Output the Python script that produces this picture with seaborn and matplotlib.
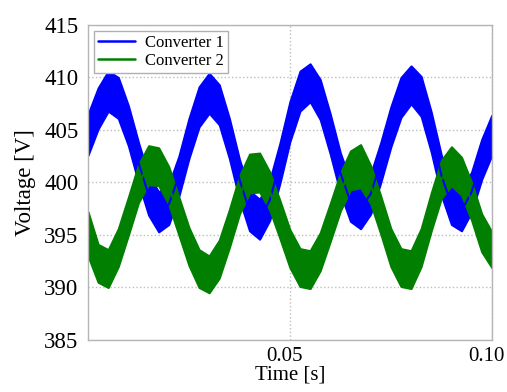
import numpy as np
import pandas as pd
import matplotlib
matplotlib.use("Agg")
import matplotlib.pyplot as plt
import matplotlib.transforms as mtransforms
import seaborn as sns

# Sample times [s]
time_s = [0.0, 0.0025, 0.005, 0.0075, 0.01, 0.0125, 0.015, 0.0175, 0.02, 0.0225,
          0.025, 0.0275, 0.03, 0.0325, 0.035, 0.0375, 0.04, 0.0425, 0.045, 0.0475,
          0.05, 0.0525, 0.055, 0.0575, 0.06, 0.0625, 0.065, 0.0675, 0.07, 0.0725,
          0.075, 0.0775, 0.08, 0.0825, 0.085, 0.0875, 0.09, 0.0925, 0.095, 0.0975, 0.1]

# Converter 1: upper / lower envelope of the noisy trace [V]
conv1_upper = [406.5, 409.0, 410.6, 410.0, 407.3, 403.8, 400.7, 399.1, 399.8, 402.5,
               406.1, 409.1, 410.4, 409.3, 406.1, 402.2, 399.2, 398.4, 400.2, 403.7,
               407.7, 410.6, 411.3, 409.8, 406.5, 402.8, 400.1, 399.4, 400.8, 403.8,
               407.2, 410.0, 411.1, 410.1, 406.7, 402.6, 399.8, 399.2, 401.0, 404.1, 406.4]
conv1_lower = [402.6, 405.1, 406.8, 406.1, 403.5, 400.0, 396.9, 395.3, 396.0, 398.7,
               402.3, 405.3, 406.6, 405.5, 402.3, 398.4, 395.4, 394.6, 396.4, 399.9,
               403.9, 406.8, 407.7, 406.0, 402.7, 399.0, 396.3, 395.6, 397.0, 400.0,
               403.4, 406.2, 407.5, 406.3, 402.9, 398.8, 396.0, 395.4, 397.2, 400.3, 402.6]

# Converter 2: upper / lower envelope of the noisy trace [V]
conv2_upper = [397.2, 394.1, 393.6, 395.6, 398.6, 401.7, 403.5, 403.3, 401.5, 398.6,
               395.7, 393.6, 393.0, 394.5, 397.4, 400.6, 402.7, 402.8, 401.0, 398.3,
               395.5, 393.7, 393.5, 395.2, 398.0, 400.9, 403.0, 403.6, 401.6, 398.7,
               395.6, 393.7, 393.5, 395.6, 399.0, 402.1, 403.4, 402.4, 400.0, 397.0, 395.3]
conv2_lower = [393.0, 390.5, 390.0, 392.0, 395.0, 398.1, 399.8, 399.7, 397.9, 395.0,
               392.1, 390.0, 389.5, 390.9, 393.8, 397.0, 399.0, 399.1, 397.4, 394.7,
               391.9, 390.1, 389.9, 391.6, 394.4, 397.3, 399.3, 399.5, 398.0, 395.1,
               392.0, 390.1, 389.9, 392.0, 395.4, 398.5, 399.7, 398.8, 396.4, 393.4, 391.9]

series_names = ["Converter 1", "Converter 2"]
colors = {"Converter 1": "#0000FF", "Converter 2": "#007F00"}
y_ticks = [385, 390, 395, 400, 405, 410, 415]
x_ticks = [0.05, 0.1]
x_tick_labels = ["0.05", "0.10"]

rows = []
for name, up, lo in [("Converter 1", conv1_upper, conv1_lower),
                     ("Converter 2", conv2_upper, conv2_lower)]:
    for t, u, l in zip(time_s, up, lo):
        rows.append({"Time": t, "Voltage": u, "Series": name})
        rows.append({"Time": t, "Voltage": l, "Series": name})
df = pd.DataFrame(rows)

sns.set_theme(style="white")
plt.rcParams["font.family"] = ["Liberation Serif", "DejaVu Serif"]
plt.rcParams["text.color"] = "black"
plt.rcParams["axes.labelcolor"] = "black"

fig = plt.figure(figsize=(5.07, 3.92), dpi=100)
ax = fig.add_axes([0.1736, 0.1327, 0.7964, 0.8036])

sns.lineplot(data=df, x="Time", y="Voltage", hue="Series", hue_order=series_names,
             palette=colors, estimator="mean", errorbar=("pi", 100),
             err_kws={"alpha": 1.0, "linewidth": 0}, linewidth=1.5, ax=ax)

# give band edges the series colour so they look a bit rounder
for coll, name in zip(ax.collections, series_names):
    coll.set_edgecolor(colors[name])
    coll.set_linewidth(1.5)
    coll.set_joinstyle("round")

ax.set_xlim(0, 0.1)
ax.set_ylim(385, 415)
ax.set_yticks(y_ticks)
ax.set_xticks(x_ticks)
ax.set_xticklabels(x_tick_labels)
ax.tick_params(axis="both", length=0, colors="black")
ax.tick_params(axis="y", pad=7, labelsize=16.5)
ax.tick_params(axis="x", pad=5, labelsize=15)
offset = mtransforms.ScaledTranslation(-5 / 100, 0, fig.dpi_scale_trans)
for lab in ax.get_xticklabels():
    lab.set_transform(lab.get_transform() + offset)
ax.set_xlabel("Time [s]", fontsize=15, labelpad=0)
ax.set_ylabel("Voltage [V]", fontsize=16.5, labelpad=6)

ax.grid(True, linestyle=":", color="#bdbdbd", linewidth=1.0)
ax.set_axisbelow(True)
for s in ax.spines.values():
    s.set_color("#b5b5b5")
    s.set_linewidth(1.0)

leg = ax.legend(loc="upper left", fontsize=12.0, frameon=True, fancybox=False,
                edgecolor="#b0b0b0", framealpha=1, borderpad=0.25, labelspacing=0.12,
                handlelength=2.2, handletextpad=0.6, borderaxespad=0.35)
leg.get_frame().set_linewidth(1.0)
for line in leg.get_lines():
    line.set_linewidth(1.8)

fig.savefig("out.png", dpi=100)
